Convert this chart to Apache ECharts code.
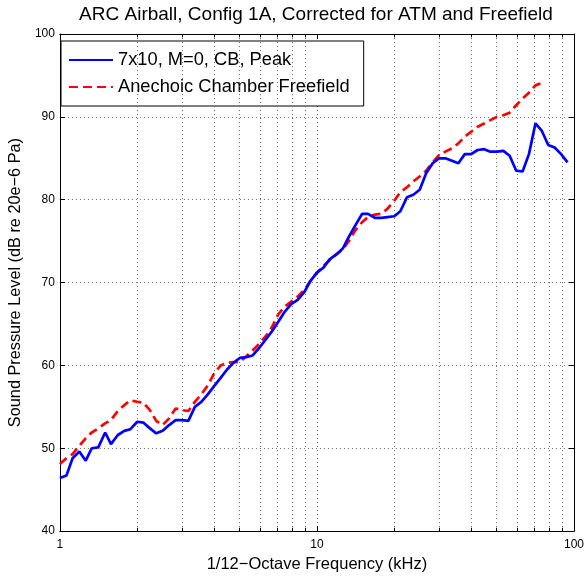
<!DOCTYPE html>
<html><head><meta charset="utf-8">
<script src="https://cdn.jsdelivr.net/npm/echarts@6/dist/echarts.min.js"></script>
<style>html,body{margin:0;padding:0;background:#fff}#c{width:587px;height:578px}</style>
</head><body><div id="c"></div>
<script>
// 1/12-octave band centre frequencies (kHz)
const freqKHz = [
  1.00, 1.06, 1.12, 1.19, 1.26, 1.33, 1.41, 1.50, 1.58, 1.68, 1.78, 1.88,
  2.00, 2.11, 2.24, 2.37, 2.51, 2.66, 2.82, 2.99, 3.16, 3.35, 3.55, 3.76,
  3.98, 4.22, 4.47, 4.73, 5.01, 5.31, 5.62, 5.96, 6.31, 6.68, 7.08, 7.50,
  7.94, 8.41, 8.91, 9.44,
  10.0, 10.6, 11.2, 11.9, 12.6, 13.3, 14.1, 15.0, 15.8, 16.8, 17.8, 18.8,
  20.0, 21.1, 22.4, 23.7, 25.1, 26.6, 28.2, 29.9, 31.6, 33.5, 35.5, 37.6,
  39.8, 42.2, 44.7, 47.3, 50.1, 53.1, 56.2, 59.6, 63.1, 66.8, 70.8, 75.0,
  79.4, 84.1, 89.1, 94.4
];
// 7x10, M=0, CB, Peak (dB)
const tunnelPeak = [
  46.4, 46.7, 48.8, 49.6, 48.5, 50.0, 50.1, 51.9, 50.5, 51.6, 52.1, 52.3,
  53.2, 53.1, 52.4, 51.8, 52.1, 52.8, 53.4, 53.4, 53.3, 55.0, 55.6, 56.5,
  57.5, 58.5, 59.5, 60.3, 60.9, 61.0, 61.2, 62.1, 63.1, 64.1, 65.3, 66.5,
  67.4, 67.9, 68.8, 70.2,
  71.2, 71.8, 72.8, 73.4, 74.1, 75.5, 76.9, 78.3, 78.3, 77.8, 77.8, 77.9,
  78.0, 78.6, 80.3, 80.6, 81.2, 83.2, 84.4, 85.0, 85.0, 84.7, 84.4, 85.5,
  85.5, 86.0, 86.1, 85.8, 85.8, 85.9, 85.3, 83.5, 83.4, 85.5, 89.2, 88.3,
  86.6, 86.3, 85.5, 84.5
];
// Anechoic Chamber Freefield (dB)
const anechoicFF = [
  48.1, 48.8, 49.3, 50.3, 51.2, 51.9, 52.4, 53.0, 53.4, 54.5, 55.2, 55.8,
  55.6, 55.5, 54.6, 53.3, 52.8, 53.6, 54.8, 54.6, 54.5, 55.6, 56.5, 57.6,
  59.0, 60.0, 60.3, 60.4, 60.4, 61.1, 61.8, 62.6, 63.5, 64.6, 66.2, 67.1,
  67.7, 68.3, 69.1, 70.2,
  71.2, 72.0, 72.7, 73.4, 74.0, 75.0, 76.3, 77.3, 77.9, 78.2, 78.3, 78.9,
  79.9, 80.9, 81.5, 82.2, 82.8, 83.5, 84.5, 85.4, 85.8, 86.2, 86.8, 87.6,
  88.2, 88.8, 89.2, 89.6, 90.0, 90.2, 90.5, 91.4, 92.2, 92.9, 93.8, 94.1
];
const seriesNames = ['7x10, M=0, CB, Peak', 'Anechoic Chamber Freefield'];
const xMinorTicks = [2,3,4,5,6,7,8,9,20,30,40,50,60,70,80,90];
const yMin = 40, yMax = 100, yStep = 10;
const xMin = 1, xMax = 100;

const FONT = '"Liberation Sans", Arial, Helvetica, sans-serif';
const gridDot = { type: [1, 3], color: '#666', width: 1 };

const chart = echarts.init(document.getElementById('c'), null, { renderer: 'canvas' });

const minorGridLines = xMinorTicks.map(v => ({ xAxis: v }));
const minorTickSegs = [];
xMinorTicks.forEach(v => {
  minorTickSegs.push([{ coord: [v, yMin] }, { coord: [v, yMin + 0.4] }]);
  minorTickSegs.push([{ coord: [v, yMax] }, { coord: [v, yMax - 0.4] }]);
});

const option = {
  animation: false,
  backgroundColor: '#fff',
  title: {
    text: 'ARC Airball, Config 1A, Corrected for ATM and Freefield',
    left: 316, top: 5, padding: 0, textAlign: 'center',
    textStyle: { fontFamily: FONT, fontSize: 19, fontWeight: 'normal', color: '#000' }
  },
  grid: { left: 56, right: 11, top: 34, bottom: 43, containLabel: false },
  legend: {
    data: seriesNames,
    orient: 'vertical', left: 61, top: 41,
    padding: [10, 14, 10, 7], itemGap: 9, itemWidth: 44, itemHeight: 14,
    backgroundColor: '#fff', borderColor: '#000', borderWidth: 1, borderRadius: 0,
    itemStyle: { opacity: 0 },
    textStyle: { fontFamily: FONT, fontSize: 18.3, color: '#000' },
    selectedMode: false
  },
  xAxis: [{
    type: 'log', logBase: 10, min: xMin, max: xMax, position: 'bottom',
    name: '1/12\u2212Octave Frequency (kHz)', nameLocation: 'middle', nameGap: 22,
    nameTextStyle: { fontFamily: FONT, fontSize: 16.5, color: '#000' },
    axisLine: { show: true, onZero: false, lineStyle: { color: '#000', width: 1 } },
    axisTick: { show: true, inside: true, length: 5, lineStyle: { color: '#000' } },
    axisLabel: { fontFamily: FONT, fontSize: 12, color: '#000', margin: 8 },
    splitLine: { show: true, lineStyle: gridDot },
    minorTick: { show: false }, minorSplitLine: { show: false }
  }, {
    type: 'log', logBase: 10, min: xMin, max: xMax, position: 'top',
    axisLine: { show: true, onZero: false, lineStyle: { color: '#000', width: 1 } },
    axisTick: { show: true, inside: true, length: 5, lineStyle: { color: '#000' } },
    axisLabel: { show: false }, splitLine: { show: false }
  }],
  yAxis: [{
    type: 'value', min: yMin, max: yMax, interval: yStep, position: 'left',
    name: 'Sound Pressure Level (dB re 20e\u22126 Pa)', nameLocation: 'middle', nameGap: 29,
    nameTextStyle: { fontFamily: FONT, fontSize: 16.3, color: '#000' },
    axisLine: { show: true, onZero: false, lineStyle: { color: '#000', width: 1 } },
    axisTick: { show: true, inside: true, length: 5, lineStyle: { color: '#000' } },
    axisLabel: { fontFamily: FONT, fontSize: 12, color: '#000', margin: 5 },
    splitLine: { show: true, lineStyle: gridDot }
  }, {
    type: 'value', min: yMin, max: yMax, interval: yStep, position: 'right',
    axisLine: { show: true, onZero: false, lineStyle: { color: '#000', width: 1 } },
    axisTick: { show: true, inside: true, length: 5, lineStyle: { color: '#000' } },
    axisLabel: { show: false }, splitLine: { show: false }
  }],
  series: [{
    name: 'minorGrid', type: 'line', data: [], silent: true, z: 1,
    markLine: {
      silent: true, symbol: ['none', 'none'], label: { show: false },
      lineStyle: gridDot, animation: false,
      data: minorGridLines
    }
  }, {
    name: 'minorTicks', type: 'line', data: [], silent: true, z: 3,
    markLine: {
      silent: true, symbol: ['none', 'none'], label: { show: false },
      lineStyle: { type: 'solid', color: '#000', width: 1 }, animation: false,
      data: minorTickSegs
    }
  }, {
    name: seriesNames[0], type: 'line', z: 5,
    data: freqKHz.map((f, i) => [f, tunnelPeak[i]]),
    symbol: 'none', showSymbol: false,
    lineStyle: { color: '#0000ff', width: 2.7, type: 'solid' },
    itemStyle: { color: '#0000ff' }
  }, {
    name: seriesNames[1], type: 'line', z: 4,
    data: anechoicFF.map((v, i) => [freqKHz[i], v]),
    symbol: 'none', showSymbol: false,
    lineStyle: { color: '#ff0000', width: 2.7, type: [9, 5] },
    itemStyle: { color: '#ff0000' }
  }]
};
chart.setOption(option);
</script>
</body></html>
